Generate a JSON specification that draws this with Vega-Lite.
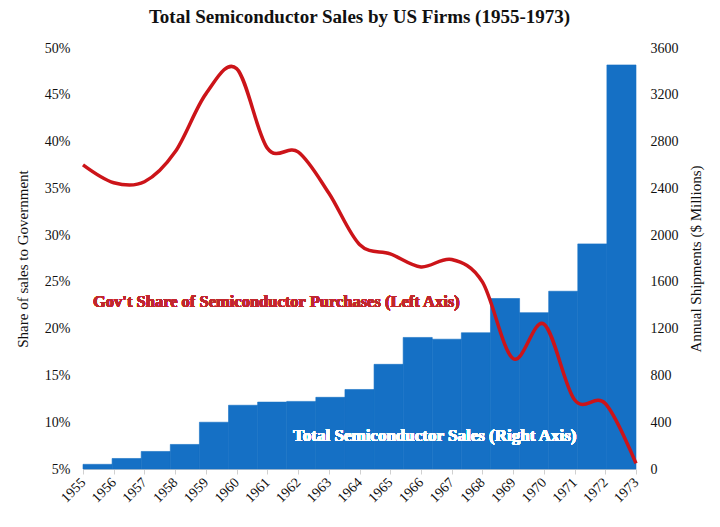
{
  "$schema": "https://vega.github.io/schema/vega-lite/v6.json",
  "description": "Total semiconductor sales by US firms and the government's share of purchases, 1955-1973.",
  "width": 553,
  "height": 421,
  "autosize": {"type": "none"},
  "padding": {"left": 83, "top": 48, "right": 84, "bottom": 58},
  "background": "white",
  "title": {
    "text": "Total Semiconductor Sales by US Firms (1955-1973)",
    "fontSize": 19,
    "fontWeight": "bold",
    "color": "#111111",
    "anchor": "middle",
    "offset": 14
  },
  "data": {
    "values": [
      {"year": 1955, "sales": 40, "share": 37.5},
      {"year": 1956, "sales": 90, "share": 35.6},
      {"year": 1957, "sales": 150, "share": 35.7},
      {"year": 1958, "sales": 210, "share": 38.9},
      {"year": 1959, "sales": 400, "share": 45.1},
      {"year": 1960, "sales": 545, "share": 47.8},
      {"year": 1961, "sales": 572, "share": 39.3},
      {"year": 1962, "sales": 578, "share": 38.9},
      {"year": 1963, "sales": 613, "share": 34.5},
      {"year": 1964, "sales": 680, "share": 29.0},
      {"year": 1965, "sales": 895, "share": 28.0},
      {"year": 1966, "sales": 1125, "share": 26.6},
      {"year": 1967, "sales": 1110, "share": 27.4},
      {"year": 1968, "sales": 1165, "share": 25.0},
      {"year": 1969, "sales": 1458, "share": 16.8},
      {"year": 1970, "sales": 1337, "share": 20.5},
      {"year": 1971, "sales": 1520, "share": 12.4},
      {"year": 1972, "sales": 1925, "share": 12.0},
      {"year": 1973, "sales": 3455, "share": 5.6}
    ]
  },
  "layer": [
    {
      "mark": {"type": "bar", "color": "#1570C5", "stroke": "#1570C5", "strokeWidth": 0.6},
      "encoding": {
        "x": {
          "field": "year",
          "type": "ordinal",
          "scale": {"type": "band", "paddingInner": 0, "paddingOuter": 0},
          "axis": null
        },
        "y": {
          "field": "sales",
          "type": "quantitative",
          "scale": {"domain": [0, 3600], "nice": false},
          "axis": {
            "orient": "right",
            "values": [0, 400, 800, 1200, 1600, 2000, 2400, 2800, 3200, 3600],
            "format": "d",
            "grid": false,
            "domain": false,
            "ticks": false,
            "labelPadding": 14,
            "title": "Annual Shipments ($ Millions)",
            "titleAngle": -90,
            "titleBaseline": "top",
            "titlePadding": 10
          }
        }
      }
    },
    {
      "layer": [
        {
          "mark": {"type": "line", "color": "#CC1419", "strokeWidth": 3.5, "interpolate": "cardinal"},
          "encoding": {
            "x": {
              "field": "year",
              "type": "ordinal",
              "scale": {"type": "point", "padding": 0},
              "axis": {
                "title": null,
                "labelAngle": -45,
                "labelAlign": "right",
                "labelBaseline": "middle",
                "labelPadding": 6,
                "domainColor": "#D0D0D0",
                "tickColor": "#D0D0D0",
                "tickSize": 5
              }
            },
            "y": {
              "field": "share",
              "type": "quantitative",
              "scale": {"domain": [5, 50], "nice": false},
              "axis": {
                "values": [5, 10, 15, 20, 25, 30, 35, 40, 45, 50],
                "labelExpr": "datum.value + '%'",
                "domain": false,
                "ticks": false,
                "labelPadding": 13,
                "gridColor": "#E4E4E4",
                "title": "Share of sales to Government",
                "titlePadding": 14
              }
            }
          }
        },
        {
          "mark": {"type": "text", "text": "Gov't Share of Semiconductor Purchases (Left Axis)", "align": "left", "baseline": "middle", "dx": 10, "fontSize": 16.5, "fontWeight": "bold", "color": "#C1272D"},
          "encoding": {
            "x": {"datum": 1955, "type": "ordinal", "title": null},
            "y": {"datum": 22.9, "type": "quantitative", "title": null}
          }
        },
        {
          "mark": {"type": "text", "text": "Total Semiconductor Sales (Right Axis)", "align": "left", "baseline": "middle", "dx": -5, "fontSize": 17, "fontWeight": "bold", "color": "white"},
          "encoding": {
            "x": {"datum": 1962, "type": "ordinal", "title": null},
            "y": {"datum": 8.5, "type": "quantitative", "title": null}
          }
        }
      ]
    }
  ],
  "resolve": {"scale": {"x": "independent", "y": "independent"}},
  "config": {
    "font": "Liberation Serif",
    "axis": {
      "labelFont": "Liberation Serif",
      "titleFont": "Liberation Serif",
      "labelFontSize": 14,
      "titleFontSize": 15,
      "titleFontWeight": "normal",
      "labelColor": "#111111",
      "titleColor": "#111111"
    },
    "view": {"stroke": null}
  }
}
